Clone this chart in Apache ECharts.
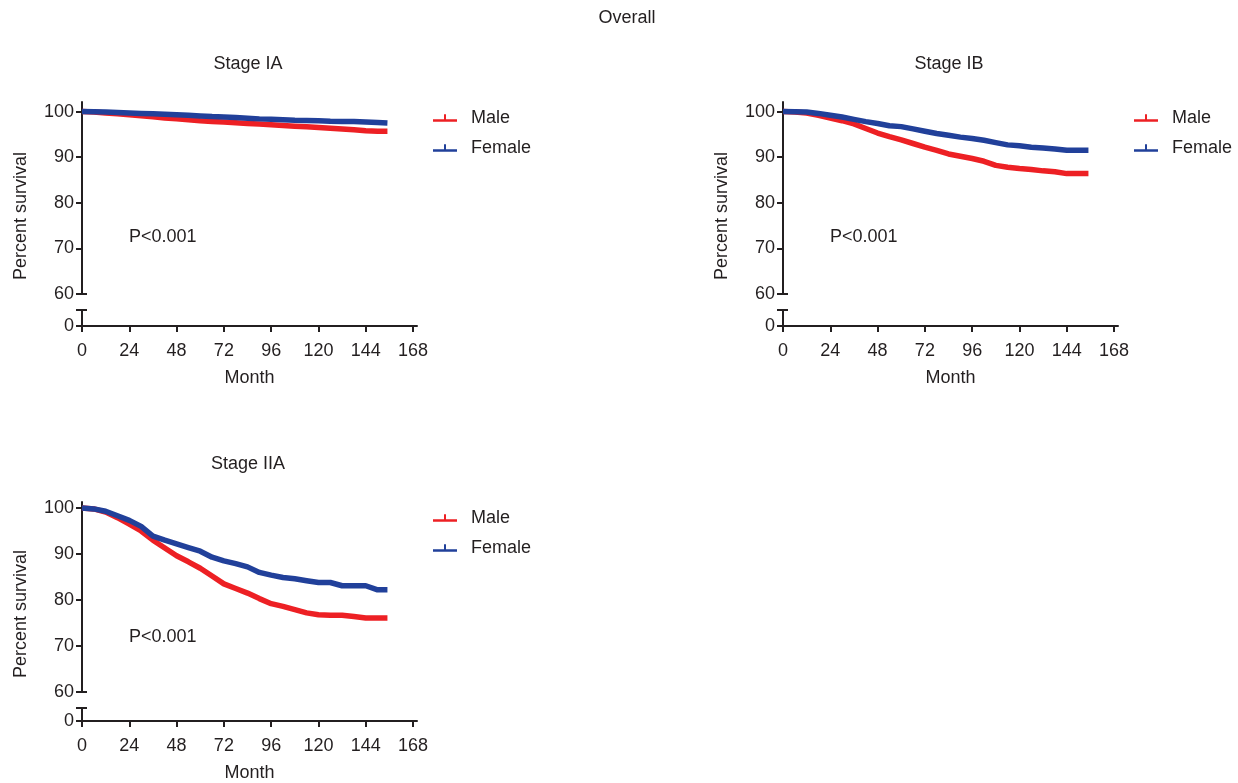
<!DOCTYPE html>
<html>
<head>
<meta charset="utf-8">
<title>Overall</title>
<script src="https://cdn.jsdelivr.net/npm/echarts@6/dist/echarts.min.js"></script>
<style>
    html, body { margin: 0; padding: 0; background: #fff; }
    #chart { width: 1238px; height: 783px; }
</style>
</head>
<body>
<div id="chart"></div>
<script>
var months = [0, 6, 12, 18, 24, 30, 36, 42, 48, 54, 60, 66, 72, 78, 84, 90, 96, 102, 108, 114, 120, 126, 132, 138, 144, 150, 155];

var iaMale = [100, 99.9, 99.7, 99.5, 99.3, 99.1, 98.85, 98.6, 98.4, 98.2, 98.0, 97.85, 97.7, 97.55, 97.4, 97.25, 97.1, 96.95, 96.8, 96.65, 96.5, 96.35, 96.2, 96.0, 95.8, 95.7, 95.7];
var iaFemale = [100, 99.95, 99.9, 99.8, 99.7, 99.6, 99.5, 99.4, 99.3, 99.2, 99.05, 98.9, 98.8, 98.7, 98.55, 98.4, 98.3, 98.2, 98.1, 98.05, 98.0, 97.9, 97.85, 97.8, 97.7, 97.6, 97.5];

var ibMale = [100, 99.9, 99.7, 99.2, 98.6, 98.0, 97.3, 96.3, 95.3, 94.5, 93.8, 93.0, 92.2, 91.5, 90.7, 90.2, 89.7, 89.1, 88.2, 87.8, 87.5, 87.3, 87.0, 86.8, 86.4, 86.4, 86.4];
var ibFemale = [100, 99.95, 99.9, 99.6, 99.2, 98.8, 98.3, 97.8, 97.4, 96.9, 96.7, 96.2, 95.7, 95.2, 94.8, 94.4, 94.1, 93.7, 93.2, 92.7, 92.5, 92.2, 92.0, 91.8, 91.5, 91.5, 91.5];

var iiaMale = [100, 99.8, 99.1, 97.9, 96.5, 95.0, 93.0, 91.3, 89.6, 88.3, 86.9, 85.2, 83.5, 82.5, 81.5, 80.3, 79.2, 78.6, 77.9, 77.2, 76.8, 76.7, 76.7, 76.4, 76.1, 76.1, 76.1];
var iiaFemale = [100, 99.8, 99.3, 98.3, 97.3, 96.0, 93.9, 93.0, 92.2, 91.4, 90.6, 89.3, 88.5, 87.9, 87.2, 86.0, 85.4, 84.9, 84.6, 84.2, 83.8, 83.8, 83.1, 83.1, 83.1, 82.2, 82.2];

var xTicks = [0, 24, 48, 72, 96, 120, 144, 168];
var yTicks = [60, 70, 80, 90, 100];
var stageNames = ['Stage IA', 'Stage IB', 'Stage IIA'];
var seriesNames = ['Male', 'Female'];

var RED = '#ed2024';
var BLUE = '#21409a';
var INK = '#231f20';
var FONT = '"Liberation Sans", Arial, Helvetica, sans-serif';

// pixel layout of each panel
var panels = [
    { left: 82, top: 102, bottom: 294, capTop: 310, zero: 326, yMax: 102.1, male: iaMale, female: iaFemale },
    { left: 783, top: 102, bottom: 294, capTop: 310, zero: 326, yMax: 102.1, male: ibMale, female: ibFemale },
    { left: 82, top: 502, bottom: 692, capTop: 708, zero: 722, yMax: 101.3, male: iiaMale, female: iiaFemale }
];
var axisWidth = 335;

function pairs(xs, ys) {
    var out = [];
    for (var i = 0; i < xs.length; i++) out.push([xs[i], ys[i]]);
    return out;
}

var grid = [], xAxis = [], yAxis = [], series = [], legend = [], title = [], graphic = [];
var lineStyle = { color: INK, width: 2 };
var labelStyle = { color: INK, fontSize: 18, fontFamily: FONT };

title.push({
    text: 'Overall', left: 627, top: 9, textAlign: 'center', padding: 0,
    textStyle: { color: INK, fontSize: 18, fontWeight: 'normal', fontFamily: FONT }
});

panels.forEach(function (p, i) {
    var g = i * 2;
    grid.push({ left: p.left, top: p.top, width: axisWidth, height: p.bottom - p.top });
    grid.push({ left: p.left, top: p.capTop, width: axisWidth, height: p.zero - p.capTop });

    xAxis.push({ gridIndex: g, type: 'value', min: 0, max: 170, show: false });
    xAxis.push({
        gridIndex: g + 1, type: 'value', min: 0, max: 170, position: 'bottom',
        axisLine: { lineStyle: lineStyle },
        axisTick: { customValues: xTicks, length: 6, lineStyle: lineStyle },
        axisLabel: Object.assign({ customValues: xTicks, margin: 16 }, labelStyle),
        splitLine: { show: false },
        name: 'Month', nameLocation: 'middle', nameGap: 43,
        nameTextStyle: labelStyle
    });

    // upper segment 60-100
    yAxis.push({
        gridIndex: g, type: 'value', min: 60, max: p.yMax, position: 'left',
        axisLine: { show: true, lineStyle: lineStyle },
        axisTick: { show: true, customValues: yTicks, length: 6, lineStyle: lineStyle },
        axisLabel: Object.assign({ customValues: yTicks, margin: 8 }, labelStyle),
        splitLine: { show: false }
    });
    // right half of the break cap at 60
    yAxis.push({
        gridIndex: g, type: 'value', min: 60, max: p.yMax, position: 'left',
        axisLine: { show: false },
        axisTick: { show: true, inside: true, customValues: [60], length: 5, lineStyle: lineStyle },
        axisLabel: { show: false },
        splitLine: { show: false }
    });
    // lower stub with 0
    yAxis.push({
        gridIndex: g + 1, type: 'value', min: 0, max: 1, position: 'left',
        axisLine: { show: true, lineStyle: lineStyle },
        axisTick: { show: true, customValues: [0, 1], length: 6, lineStyle: lineStyle },
        axisLabel: Object.assign({ customValues: [0], margin: 8 }, labelStyle),
        splitLine: { show: false }
    });
    yAxis.push({
        gridIndex: g + 1, type: 'value', min: 0, max: 1, position: 'left',
        axisLine: { show: false },
        axisTick: { show: true, inside: true, customValues: [1], length: 5, lineStyle: lineStyle },
        axisLabel: { show: false },
        splitLine: { show: false }
    });

    var yIdx = i * 4;
    series.push({
        name: 'Male', type: 'line', xAxisIndex: g, yAxisIndex: yIdx,
        data: pairs(months, p.male), showSymbol: false, silent: true,
        lineStyle: { color: RED, width: 5.5 }, itemStyle: { color: RED }
    });
    series.push({
        name: 'Female', type: 'line', xAxisIndex: g, yAxisIndex: yIdx,
        data: pairs(months, p.female), showSymbol: false, silent: true, z: 3,
        lineStyle: { color: BLUE, width: 5.5 }, itemStyle: { color: BLUE }
    });

    legend.push({
        data: seriesNames, orient: 'vertical',
        left: p.left + axisWidth + 11, top: p.top + 2,
        itemWidth: 24, itemHeight: 8, itemGap: 12,
        icon: 'path://M0,5h24v2.5H0z M11,0h2v5h-2z',
        textStyle: Object.assign({ padding: [6, 0, 0, 9] }, labelStyle),
        selectedMode: false
    });

    title.push({
        text: stageNames[i], left: p.left + 166, top: p.top - 47, textAlign: 'center', padding: 0,
        textStyle: { color: INK, fontSize: 18, fontWeight: 'normal', fontFamily: FONT }
    });

    graphic.push({
        type: 'text', left: p.left + 47, top: p.top + 126,
        style: { text: 'P<0.001', fill: INK, font: '18px ' + FONT }
    });
    graphic.push({
        type: 'text', x: p.left - 61, y: (p.top + p.zero) / 2 + 2, rotation: Math.PI / 2,
        style: { text: 'Percent survival', fill: INK, font: '18px ' + FONT, align: 'center', verticalAlign: 'middle' }
    });
});

var chart = echarts.init(document.getElementById('chart'), null, { renderer: 'canvas' });
chart.setOption({
    animation: false,
    backgroundColor: '#fff',
    title: title,
    legend: legend,
    grid: grid,
    xAxis: xAxis,
    yAxis: yAxis,
    series: series,
    graphic: graphic
});
</script>
</body>
</html>
